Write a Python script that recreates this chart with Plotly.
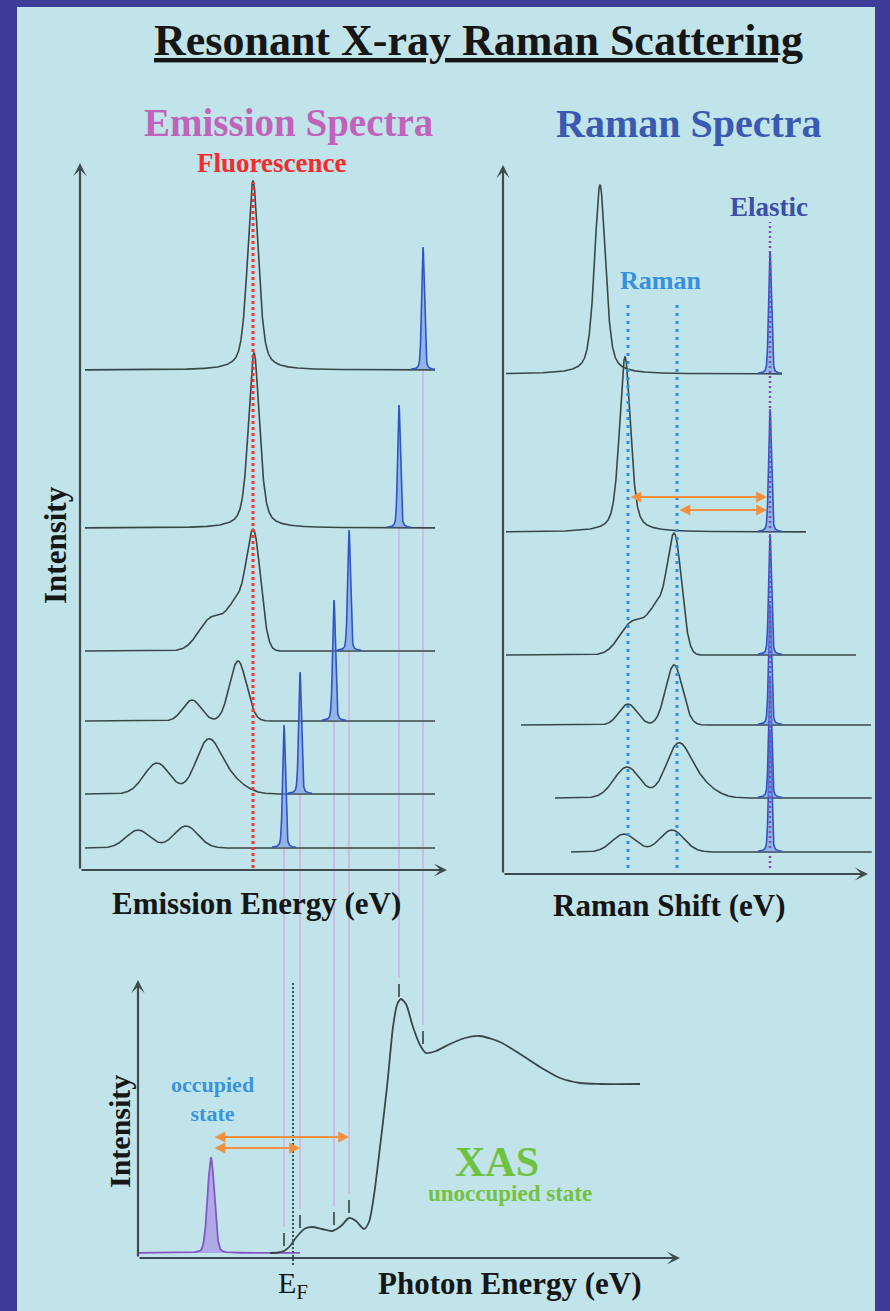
import numpy as np
import plotly.graph_objects as go

W, H = 890, 1311

# ---------------- data ----------------
# six spectra, listed from the bottom one (lowest incident energy) to the top one
incident_energy = [10.2, 11.0, 12.7, 13.45, 15.95, 17.15]      # eV
spectrum_offset = [2.2, 7.6, 14.9, 21.9, 34.2, 50.0]           # vertical offsets (a.u.)
peak_center = [[2.9, 5.3], [3.85, 6.35, 7.25], [5.6, 7.9],
               [6.6, 7.9, 8.7], [8.7], [8.65]]                 # emission energy (eV)
peak_height = [[1.8, 2.2], [3.1, 4.5, 1.8], [2.1, 6.0],
               [3.3, 4.5, 10.8], [17.5], [18.9]]
peak_fwhm = [[1.41, 1.41], [1.53, 1.41, 1.88], [1.06, 0.99],
             [1.53, 1.18, 0.82], [0.65], [0.65]]
peak_lorentz = [[0, 0], [0, 0, 0], [0, 0], [0, 0, 0], [0.5], [0.5]]
elastic_height = [12.3, 12.2, 12.1, 12.1, 12.3, 12.3]
elastic_fwhm = 0.16
elastic_span = 0.6
emission_window = [0.25, 17.75]
raman_window = [-13.2, 5.1]
fluorescence_energy = 8.65
raman_feature_shift = [-7.1, -4.65]

fermi_energy = 10.65
occupied_energy = 6.55
occupied_height = 9.5
occupied_fwhm = 0.4
occupied_window = [2.95, 11.0]
xas_energy = [9.5, 9.9, 10.2, 10.5, 10.75, 11.0, 11.25, 11.6, 12.1, 12.6, 13.05,
              13.45, 13.8, 14.2, 14.45, 14.7, 15.0, 15.35, 15.65, 15.85, 16.05,
              16.3, 16.65, 17.0, 17.3, 17.8, 18.5, 19.25, 20.0, 21.0, 22.0, 23.0,
              24.0, 25.0, 26.0, 28.0]
xas_intensity = [0, 0.05, 0.2, 0.7, 1.4, 2.0, 2.45, 2.6, 2.4, 2.2, 2.7,
                 3.5, 3.2, 2.4, 3.1, 5.8, 10.6, 16.6, 22.6, 24.8, 25.4,
                 24.9, 22.6, 20.8, 20.0, 20.2, 20.9, 21.5, 21.7, 21.1, 19.9, 18.6,
                 17.5, 17.0, 16.9, 16.9]

# ---------------- styles ----------------
BG = '#c1e4ea'
BORDER = '#3b3d99'
CURVE = '#3a4747'
AXIS = '#3f4b4b'
SERIF = 'Liberation Serif'


def pv(x, c, a, fwhm, eta):
    s = fwhm / 2.3548
    g = np.exp(-0.5 * ((x - c) / s) ** 2)
    lz = 1.0 / (1.0 + ((x - c) / (fwhm / 2.0)) ** 2)
    return a * ((1 - eta) * g + eta * lz)


def spectrum(x, i):
    y = np.full_like(x, spectrum_offset[i], dtype=float)
    for c, a, f, e in zip(peak_center[i], peak_height[i], peak_fwhm[i], peak_lorentz[i]):
        y = y + pv(x, c, a, f, e)
    return y


# panel geometry (pixels) and axis ranges
def dom_x(p0, p1):
    return [p0 / W, p1 / W]


def dom_y(pb, pt):
    return [1 - pb / H, 1 - pt / H]


A_dx, A_rx = dom_x(80, 450), [0, 18.5]
A_dy, A_ry = dom_y(870, 120), [0, 75]
B_dx, B_rx = dom_x(500, 874), [-13.5, 5.2]
B_dy, B_ry = dom_y(874, 120), [0, 75.4]
C_dx, C_rx = dom_x(138, 690), [2.9, 30.5]
C_dy, C_ry = dom_y(1270, 960), [-1.7, 29.3]


def to_paper(v, dom, rng):
    return dom[0] + (v - rng[0]) / (rng[1] - rng[0]) * (dom[1] - dom[0])


fig = go.Figure()

# ---------------- emission + raman spectra ----------------
E = np.linspace(emission_window[0], emission_window[1], 1751)
for i, inc in enumerate(incident_energy):
    y = spectrum(E, i)
    fig.add_trace(go.Scatter(x=E, y=y, mode='lines', line=dict(color=CURVE, width=1.6),
                             xaxis='x', yaxis='y', hoverinfo='skip'))
    R = E - inc
    m = (R >= raman_window[0]) & (R <= raman_window[1])
    fig.add_trace(go.Scatter(x=R[m], y=y[m], mode='lines', line=dict(color=CURVE, width=1.6),
                             xaxis='x2', yaxis='y2', hoverinfo='skip'))
for i, inc in enumerate(incident_energy):
    Ee = np.linspace(inc - elastic_span, inc + elastic_span, 161)
    ye = spectrum_offset[i] + pv(Ee, inc, elastic_height[i], elastic_fwhm, 0.3)
    for xs, xa, ya in ((Ee, 'x', 'y'), (Ee - inc, 'x2', 'y2')):
        fig.add_trace(go.Scatter(x=xs, y=ye, mode='lines', fill='toself',
                                 fillcolor='rgba(110,140,225,0.55)',
                                 line=dict(color='#2f54c6', width=1.6),
                                 xaxis=xa, yaxis=ya, hoverinfo='skip'))

# guide lines
fig.add_trace(go.Scatter(x=[fluorescence_energy] * 2, y=[0.2, 68.8], mode='lines',
                         line=dict(color='#f23535', width=3, dash='3px,3px'),
                         xaxis='x', yaxis='y', hoverinfo='skip'))
for r in raman_feature_shift:
    fig.add_trace(go.Scatter(x=[r, r], y=[0.6, 57.4], mode='lines',
                             line=dict(color='#2b8fe6', width=3, dash='3px,5px'),
                             xaxis='x2', yaxis='y2', hoverinfo='skip'))
fig.add_trace(go.Scatter(x=[0, 0], y=[0.6, 65.2], mode='lines',
                         line=dict(color='#7d4db5', width=2.5, dash='2px,3px'),
                         xaxis='x2', yaxis='y2', hoverinfo='skip'))

# ---------------- XAS ----------------
Eo = np.linspace(occupied_window[0], occupied_window[1], 806)
yo = pv(Eo, occupied_energy, occupied_height, occupied_fwhm, 0.15)
fig.add_trace(go.Scatter(x=Eo, y=yo, mode='lines', fill='toself',
                         fillcolor='rgba(170,150,230,0.75)',
                         line=dict(color='#8656c6', width=1.8),
                         xaxis='x3', yaxis='y3', hoverinfo='skip'))
fig.add_trace(go.Scatter(x=xas_energy, y=xas_intensity, mode='lines',
                         line=dict(color=CURVE, width=1.8, shape='spline', smoothing=0.7),
                         xaxis='x3', yaxis='y3', hoverinfo='skip'))
fig.add_trace(go.Scatter(x=[fermi_energy] * 2, y=[-1.2, 27.1], mode='lines',
                         line=dict(color='#3b5250', width=2, dash='2px,2px'),
                         xaxis='x3', yaxis='y3', hoverinfo='skip'))

tick_gap, tick_len, pink_gap = 0.5, 1.3, 0.6
tx, ty = [], []
shapes = [dict(type='rect', xref='paper', yref='paper', x0=17 / W, x1=875 / W,
               y0=0, y1=1 - 7 / H, fillcolor=BG, line=dict(width=0), layer='below')]
for i, inc in enumerate(incident_energy):
    yc = float(np.interp(inc, xas_energy, xas_intensity))
    tx += [inc, inc, None]
    ty += [yc + tick_gap, yc + tick_gap + tick_len, None]
    shapes.append(dict(type='line', xref='x', yref='paper', x0=inc, x1=inc,
                       y0=to_paper(spectrum_offset[i], A_dy, A_ry),
                       y1=to_paper(yc + tick_gap + tick_len + pink_gap, C_dy, C_ry),
                       line=dict(color='#d7a2dc', width=1.2), layer='below'))
fig.add_trace(go.Scatter(x=tx, y=ty, mode='lines', line=dict(color='#2e3535', width=1.5),
                         xaxis='x3', yaxis='y3', hoverinfo='skip'))

# ---------------- annotations ----------------
ann = []


def arrow(x, y, ax, ay, xr, yr, color=AXIS, width=2.2, head=3, size=1.0, both=False,
          standoff=0, startstandoff=0):
    d = dict(x=x, y=y, ax=ax, ay=ay, xref=xr, yref=yr, axref=xr, ayref=yr, text='',
             showarrow=True, arrowhead=head, arrowsize=size, arrowwidth=width,
             arrowcolor=color, standoff=standoff, startstandoff=startstandoff)
    if both:
        d.update(arrowside='end+start', startarrowhead=head, startarrowsize=size)
    ann.append(d)


# axes with arrow heads
arrow(0, 70.7, 0, 0, 'x', 'y')
arrow(18.35, 0, 0, 0, 'x', 'y')
arrow(-13.35, 70.9, -13.35, 0, 'x2', 'y2')
arrow(4.9, 0, -13.35, 0, 'x2', 'y2')
arrow(2.9, 27.3, 2.9, -0.5, 'x3', 'y3')
arrow(30.0, -0.5, 2.9, -0.5, 'x3', 'y3')

ORANGE = '#f3903f'
arrow(0, 37.7, raman_feature_shift[0], 37.7, 'x2', 'y2', color=ORANGE, width=1.8, head=2,
      size=1.2, both=True, standoff=3, startstandoff=1)
arrow(0, 36.4, raman_feature_shift[1], 36.4, 'x2', 'y2', color=ORANGE, width=1.8, head=2,
      size=1.2, both=True, standoff=3, startstandoff=1)
arrow(incident_energy[3], 11.6, occupied_energy + 0.1, 11.6, 'x3', 'y3', color=ORANGE,
      width=1.8, head=2, size=1.2, both=True)
arrow(incident_energy[1], 10.5, occupied_energy + 0.1, 10.5, 'x3', 'y3', color=ORANGE,
      width=1.8, head=2, size=1.2, both=True)


def label(text, px, py, size, color='#161616', angle=0, bold=True, xref='paper', x=None):
    t = '<b>' + text + '</b>' if bold else text
    ann.append(dict(text=t, x=(px / W if x is None else x), y=1 - py / H,
                    xref=xref, yref='paper', showarrow=False, textangle=angle,
                    xanchor='center', yanchor='middle',
                    font=dict(family=SERIF, size=size, color=color)))


label('<u>Resonant X-ray Raman Scattering</u>', 478, 40, 44)
label('Emission Spectra', 288, 123, 39, color='#c063ba')
label('Raman Spectra', 689, 123, 40, color='#3a5ab2')
label('Fluorescence', 271, 163, 27, color='#f42c2c')
label('Raman', 660, 280, 26, color='#3590de')
label('Elastic', 769, 207, 27, color='#3c4fa8')
label('Intensity', 55, 545, 31, angle=-90)
label('Emission Energy (eV)', 256, 903, 31)
label('Raman Shift (eV)', 669, 905, 31)
label('Intensity', 119, 1132, 30, angle=-90)
label('Photon Energy (eV)', 509, 1283, 31)
label('E<sub>F</sub>', 0, 1285, 30, bold=False, xref='x3', x=fermi_energy)
label('occupied<br>state', 212, 1099, 22, color='#3a94dc')
label('XAS', 497, 1162, 42, color='#6dc23f')
label('unoccupied state', 510, 1193, 23, color='#74c23f')

ax_common = dict(visible=False, showgrid=False, zeroline=False, fixedrange=True)
fig.update_layout(
    width=W, height=H, margin=dict(l=0, r=0, t=0, b=0),
    paper_bgcolor=BORDER, plot_bgcolor='rgba(0,0,0,0)', showlegend=False,
    xaxis=dict(domain=A_dx, range=A_rx, anchor='y', **ax_common),
    yaxis=dict(domain=A_dy, range=A_ry, anchor='x', **ax_common),
    xaxis2=dict(domain=B_dx, range=B_rx, anchor='y2', **ax_common),
    yaxis2=dict(domain=B_dy, range=B_ry, anchor='x2', **ax_common),
    xaxis3=dict(domain=C_dx, range=C_rx, anchor='y3', **ax_common),
    yaxis3=dict(domain=C_dy, range=C_ry, anchor='x3', **ax_common),
    shapes=shapes, annotations=ann,
)

fig.write_html('out.html')
